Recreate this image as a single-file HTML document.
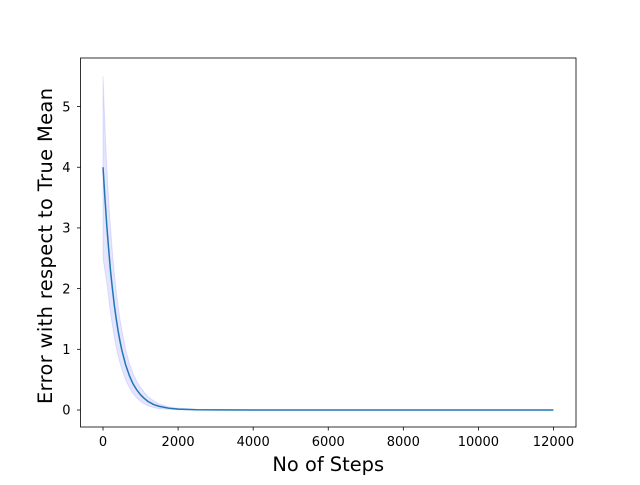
<!DOCTYPE html>
<html><head><meta charset="utf-8"><style>body{margin:0;background:#fff}svg text{font-family:"DejaVu Sans","Liberation Sans",sans-serif}</style></head>
<body>
<svg id="chart" width="640" height="480" xmlns="http://www.w3.org/2000/svg"></svg>
<script>
const steps = [0,50,100,150,200,250,300,350,400,450,500,600,700,800,900,1000,1100,1200,1350,1500,1750,2000,2500,3000,4000,6000,8000,10000,12000];
const meanVals = [4.0,3.5,3.04,2.65,2.29,2.0,1.73,1.51,1.31,1.14,0.99,0.75,0.57,0.43,0.33,0.25,0.19,0.14,0.09,0.06,0.03,0.015,0.005,0.002,0,0,0,0,0];
const upperVals = [5.5,4.7,4.0,3.45,3.0,2.6,2.25,1.97,1.72,1.5,1.32,1.0,0.77,0.6,0.47,0.37,0.29,0.22,0.15,0.1,0.05,0.03,0.01,0.005,0,0,0,0,0];
const lowerVals = [2.5,2.3,2.1,1.85,1.6,1.4,1.2,1.04,0.9,0.78,0.68,0.5,0.37,0.27,0.2,0.14,0.1,0.07,0.04,0.02,0.01,0.005,0.001,0,0,0,0,0,0];
const xTicks = [0,2000,4000,6000,8000,10000,12000];
const yTicks = [0,1,2,3,4,5];

const L=80.5,R=576,T=58,B=427;
const xMin=-600,xMax=12600,yMin=-0.28,yMax=5.8;
const xs=v=>L+(v-xMin)/(xMax-xMin)*(R-L);
const ys=v=>B-(v-yMin)/(yMax-yMin)*(B-T);
const svg=document.getElementById('chart');
const NS='http://www.w3.org/2000/svg';
function mk(t,a,p){const e=document.createElementNS(NS,t);for(const k in a)e.setAttribute(k,a[k]);(p||svg).appendChild(e);return e;}

let d=steps.map((s,i)=>(i?'L':'M')+xs(s)+','+ys(upperVals[i])).join('');
for(let i=steps.length-1;i>=0;i--)d+='L'+xs(steps[i])+','+ys(lowerVals[i]);
const band=mk('path',{d:d+'Z',fill:'#0000ff','fill-opacity':0.1,stroke:'#0000ff','stroke-opacity':0.1});


const line=mk('path',{d:steps.map((s,i)=>(i?'L':'M')+xs(s)+','+ys(meanVals[i])).join(''),fill:'none',stroke:'#1f77b4','stroke-width':1.5,'stroke-linejoin':'round'});



const frame=mk('rect',{x:L,y:T,width:R-L,height:B-T,fill:'none',stroke:'#000','stroke-width':0.8});



xTicks.forEach(v=>{
  const tk=mk('line',{x1:xs(v),x2:xs(v),y1:B,y2:B+3.5,stroke:'#000','stroke-width':0.8});
  
  
  const t=mk('text',{x:xs(v),y:446,'text-anchor':'middle','font-size':13});
  
  
  t.textContent=v;
});
yTicks.forEach(v=>{
  const tk=mk('line',{x1:L-3.5,x2:L,y1:ys(v),y2:ys(v),stroke:'#000','stroke-width':0.8});
  
  
  const t=mk('text',{x:L-10,y:ys(v)+4.7,'text-anchor':'end','font-size':13});
  
  
  t.textContent=v;
});
const xt=mk('text',{x:(L+R)/2,y:471,'text-anchor':'middle','font-size':19.4});


xt.textContent='No of Steps';
const yt=mk('text',{x:0,y:0,'text-anchor':'middle','font-size':19.4,textLength:316,transform:'translate(52,246) rotate(-90)'});


yt.textContent='Error with respect to True Mean';
</script>
</body></html>
